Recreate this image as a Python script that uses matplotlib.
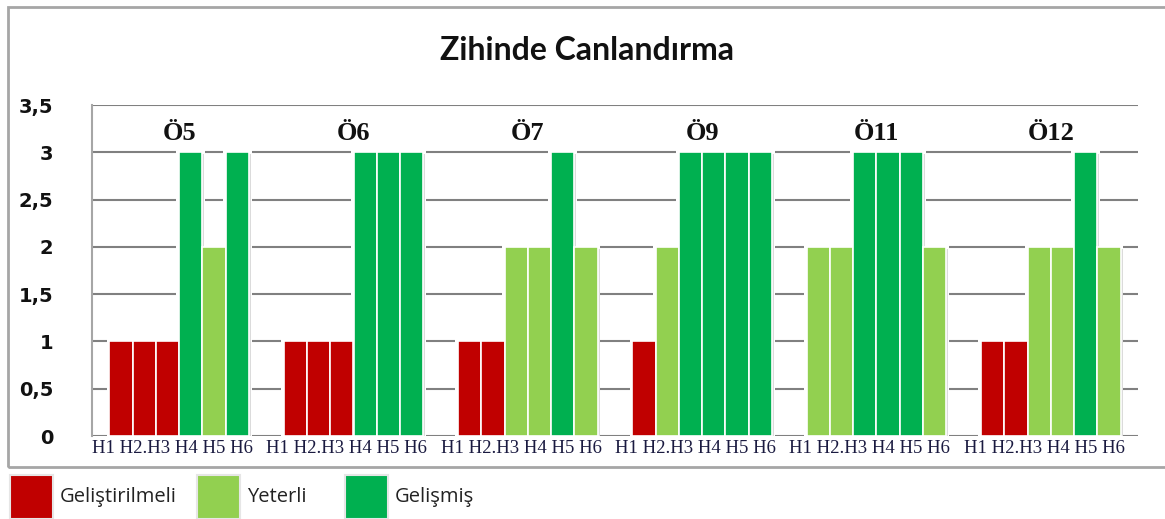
import matplotlib
matplotlib.use("Agg")
import matplotlib.pyplot as plt
import matplotlib.patheffects as pe
from matplotlib.patches import Rectangle

# veriler
gruplar = ["Ö5", "Ö6", "Ö7", "Ö9", "Ö11", "Ö12"]
h_etiket = "H1 H2.H3 H4 H5 H6"
o5 = [1, 1, 1, 3, 2, 3]
o6 = [1, 1, 1, 3, 3, 3]
o7 = [1, 1, 2, 2, 3, 2]
o9 = [1, 2, 3, 3, 3, 3]
o11 = [2, 2, 3, 3, 3, 2]
o12 = [1, 1, 2, 2, 3, 2]
degerler = [o5, o6, o7, o9, o11, o12]
seviyeler = ["Geliştirilmeli", "Yeterli", "Gelişmiş"]
renkler = ["#C00000", "#92D050", "#00B050"]

W, H = 1165, 519
fig = plt.figure(figsize=(W / 100, H / 100), dpi=100)

# dış çerçeve
fig.patches.append(Rectangle((8 / W, 1 - 467 / H), 1.2, (467 - 7) / H,
                             transform=fig.transFigure, fill=False,
                             edgecolor="#a6a6a6", linewidth=2))

ax = fig.add_axes([92 / W, 1 - 436 / H, (1138 - 92) / W, (436 - 105) / H])

n = 6
w = 1 / 7.5
for i, grup in enumerate(degerler):
    for j, v in enumerate(grup):
        x = i + (j - (n - 1) / 2) * w
        # çubuk çevresindeki beyaz boşluk (ızgarayı keser)
        ax.bar(x, v + 0.04, width=w * 1.25, color="white", linewidth=0, zorder=2)
        b = ax.bar(x, v, width=w, color=renkler[v - 1], edgecolor="white",
                   linewidth=1.2, zorder=3)
        b[0].set_path_effects([pe.SimplePatchShadow(offset=(1.5, -1.5), shadow_rgbFace="#888888", alpha=0.3),
                               pe.Normal()])

ax.set_xlim(-0.5, len(gruplar) - 0.5)
ax.set_ylim(0, 3.5)
ax.set_yticks([0, 0.5, 1, 1.5, 2, 2.5, 3, 3.5])
ax.set_yticklabels(["0", "0,5", "1", "1,5", "2", "2,5", "3", "3,5"],
                   fontfamily="DejaVu Sans", fontweight="bold", fontsize=14, color="#111111")
ax.set_xticks([])
ax.tick_params(axis="y", length=0, pad=28)
ax.grid(axis="y", color="#808080", linewidth=1.5, zorder=0)
ax.set_axisbelow(True)
for s in ["right", "top", "bottom"]:
    ax.spines[s].set_visible(False)
ax.spines["left"].set_color("#a6a6a6")
ax.spines["left"].set_linewidth(1.5)
ax.spines["left"].set_zorder(4)

# grup başlıkları ve H etiketleri
for i, g in enumerate(gruplar):
    ax.text(i, 3.2, g, ha="center", va="center", fontfamily="Liberation Serif",
            fontweight="bold", fontsize=19, color="#111111")
    ax.text(i - 0.5, -0.04, h_etiket, ha="left", va="top", fontfamily="Liberation Serif",
            fontsize=13.5, color="#1a1a40", transform=ax.transData, clip_on=False)

fig.text(587 / W, 1 - 50 / H, "Zihinde Canlandırma", ha="center", va="center",
         fontfamily="Lato", fontweight="bold", fontsize=23, color="#111111")

# lejant
lx = [10, 197, 345]
for k in range(3):
    fig.patches.append(Rectangle((lx[k] / W, 0), 43 / W, 44 / H, transform=fig.transFigure,
                                 facecolor=renkler[k], edgecolor="#e6e6e6", linewidth=1.5))
    fig.text((lx[k] + 50) / W, 1 - 497 / H, seviyeler[k], ha="left", va="center",
             fontfamily="Open Sans", fontsize=14.5, color="#222222")

fig.savefig("out.png", dpi=100)
